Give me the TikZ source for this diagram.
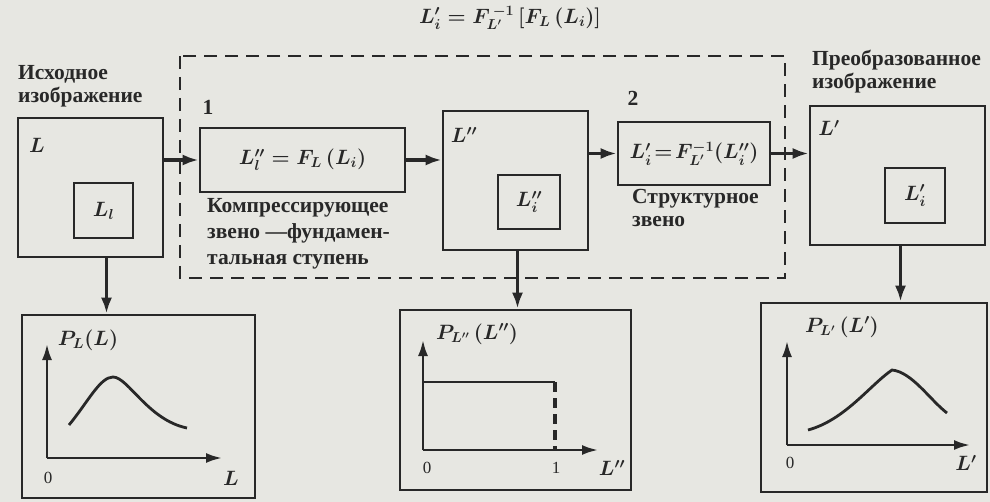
\documentclass[tikz,border=0pt]{standalone}
\usepackage{fontspec}
\setmainfont{Liberation Serif}
\usetikzlibrary{arrows.meta}
\definecolor{bg}{RGB}{231,231,226}
\definecolor{ink}{RGB}{40,40,40}
\begin{document}
\begin{tikzpicture}[x=1pt,y=-1pt,
  every node/.style={text=ink},
  frame/.style={draw=ink,line width=2.6pt,inner sep=0pt},
  arr/.style={draw=ink,line width=3.4pt,-{Latex[length=16pt,width=11pt]}},
  axis/.style={draw=ink,line width=2.4pt,-{Latex[length=16pt,width=10pt]}},
  curve/.style={draw=ink,line width=2.8pt},
  lbl/.style={font=\fontsize{21.5}{23}\selectfont\bfseries,align=left,inner sep=0pt},
  mth/.style={font=\fontsize{20}{24}\selectfont\boldmath,inner sep=0pt}]
\fill[bg] (0,0) rectangle (990,502);
\useasboundingbox (0,0) rectangle (990,502);

% top formula
\node[mth] (top) at (510,18) {$L_i' = F_{L'}^{\,-1}\,[F_L\,(L_i)]$};

% dashed frame
\draw[ink,line width=2.4pt,dash pattern=on 13pt off 8pt] (180,56) rectangle (785,278);

% source image
\node[lbl,anchor=north west] (srclbl) at (18,65) {Исходное\\изображение};
\node[frame,minimum width=145pt,minimum height=139pt] (bL) at (90.5,187.5) {};
\node[mth] (tL) at (37,145) {$L$};
\node[frame,minimum width=59pt,minimum height=55pt,mth] (bLi) at (103.5,210.5) {$L_l$};

% block 1
\node[lbl] (n1) at (208,107) {1};
\node[frame,minimum width=205pt,minimum height=64pt,mth] (b1) at (302.5,160) {$L_l'' = F_L\,(L_i)$};
\node[lbl,anchor=north west,font=\fontsize{21.5}{26}\selectfont\bfseries] (t1) at (207,198) {Компрессирующее\\звено —фундамен-\\тальная ступень};

% intermediate image
\node[frame,minimum width=145pt,minimum height=139pt] (bLL) at (515.5,180.5) {};
\node[mth] (tLL) at (464,135) {$L''$};
\node[frame,minimum width=62pt,minimum height=54pt,mth] (bLLi) at (529,202) {$L_i''$};

% block 2
\node[lbl] (n2) at (633,98) {2};
\node[frame,minimum width=152pt,minimum height=63pt,mth,font=\fontsize{19.5}{22}\selectfont\boldmath] (b2) at (694,153.5) {$L_i'\!=\!F_{L'}^{-1}(L_i'')$};
\node[lbl,anchor=north west] (t2) at (632,189) {Структурное\\звено};

% result image
\node[lbl,anchor=north west] (reslbl) at (812,50) {Преобразованное\\изображение};
\node[frame,minimum width=175pt,minimum height=139pt] (bLp) at (897.5,175.5) {};
\node[mth] (tLp) at (829,128) {$L'$};
\node[frame,minimum width=60pt,minimum height=55pt,mth] (bLpi) at (915,195.5) {$L_i'$};

% plot boxes
\node[frame,minimum width=233pt,minimum height=183pt] (p1) at (138.5,406.5) {};
\node[frame,minimum width=231pt,minimum height=180pt] (p2) at (515.5,400) {};
\node[frame,minimum width=226pt,minimum height=189pt] (p3) at (874,397.5) {};

% connectors
\draw[arr] (bL.east |- b1.west) -- (b1.west);
\draw[arr] (b1.east) -- (b1.east -| bLL.west);
\draw[arr] (bLL.east |- b2.west) -- (b2.west);
\draw[arr] (b2.east) -- (b2.east -| bLp.west);
\draw[arr] ([xshift=16pt]bL.south) -- ([xshift=16pt]bL.south |- p1.north);
\draw[arr] ([xshift=2pt]bLL.south) -- ([xshift=2pt]bLL.south |- p2.north);
\draw[arr] ([xshift=3pt]bLp.south) -- ([xshift=3pt]bLp.south |- p3.north);

% plot 1
\coordinate (o1) at (47,458);
\draw[axis] (o1) -- (47,344);
\draw[axis] (o1) -- (222,458);
\node[mth,font=\fontsize{17}{20}\selectfont] (z1) at (48,478) {0};
\node[mth] (x1) at (231,478) {$L$};
\node[mth] (y1) at (88,340) {$P_L(L)$};
\draw[curve] (69,425) .. controls (88,402) and (100,377) .. (113,377)
  .. controls (128,377) and (148,420) .. (187,428);

% plot 2
\coordinate (o2) at (423,450);
\draw[axis] (o2) -- (423,340);
\draw[axis] (o2) -- (598,450);
\draw[curve] (423,382) -- (555,382);
\draw[ink,line width=3.6pt,dash pattern=on 10pt off 6pt] (555,382) -- (555,450);
\node[mth,font=\fontsize{17}{20}\selectfont] (z2) at (427,468) {0};
\node[mth,font=\fontsize{17}{20}\selectfont] (one2) at (556,468) {1};
\node[mth] (x2) at (612,468) {$L''$};
\node[mth] (y2) at (477,334) {$P_{L''}\,(L'')$};

% plot 3
\coordinate (o3) at (787,445);
\draw[axis] (o3) -- (787,341);
\draw[axis] (o3) -- (970,445);
\draw[curve] (808,430) .. controls (845,420) and (870,385) .. (892,370)
  .. controls (912,372) and (930,400) .. (947,413);
\node[mth,font=\fontsize{17}{20}\selectfont] (z3) at (790,463) {0};
\node[mth] (x3) at (966,463) {$L'$};
\node[mth] (y3) at (842,327) {$P_{L'}\,(L')$};
\end{tikzpicture}
\end{document}
